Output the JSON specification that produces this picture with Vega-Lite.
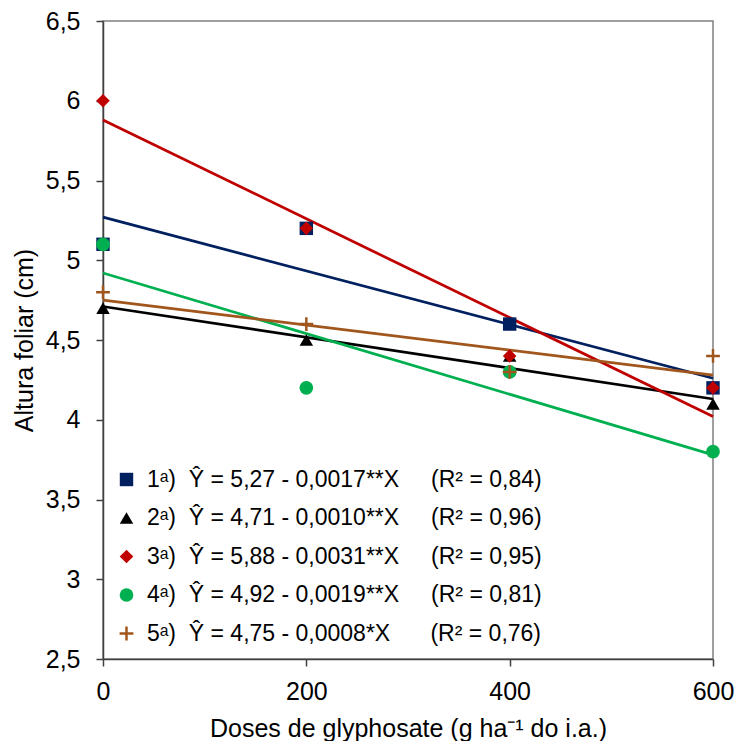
{
  "$schema": "https://vega.github.io/schema/vega-lite/v6.json",
  "width": 610,
  "height": 638,
  "autosize": {"type": "none"},
  "padding": {"left": 103, "top": 21, "right": 26, "bottom": 82},
  "background": "white",
  "config": {
    "font": "Liberation Sans",
    "view": {"stroke": "#808080", "strokeWidth": 1.5},
    "axis": {
      "grid": false,
      "domainColor": "#404040",
      "domainWidth": 1.5,
      "tickColor": "#404040",
      "tickWidth": 1.5,
      "tickSize": 7,
      "labelFont": "Liberation Sans",
      "labelFontSize": 25,
      "labelColor": "#000000",
      "titleFont": "Liberation Sans",
      "titleFontSize": 25,
      "titleFontWeight": "normal",
      "titleColor": "#000000"
    }
  },
  "datasets": {
    "pontos": [
      {"dose": 0, "altura": 5.1, "serie": "1"},
      {"dose": 200, "altura": 5.2, "serie": "1"},
      {"dose": 400, "altura": 4.6, "serie": "1"},
      {"dose": 600, "altura": 4.2, "serie": "1"},
      {"dose": 0, "altura": 4.7, "serie": "2"},
      {"dose": 200, "altura": 4.5, "serie": "2"},
      {"dose": 400, "altura": 4.4, "serie": "2"},
      {"dose": 600, "altura": 4.1, "serie": "2"},
      {"dose": 0, "altura": 6.0, "serie": "3"},
      {"dose": 200, "altura": 5.2, "serie": "3"},
      {"dose": 400, "altura": 4.4, "serie": "3"},
      {"dose": 600, "altura": 4.2, "serie": "3"},
      {"dose": 0, "altura": 5.1, "serie": "4"},
      {"dose": 200, "altura": 4.2, "serie": "4"},
      {"dose": 400, "altura": 4.3, "serie": "4"},
      {"dose": 600, "altura": 3.8, "serie": "4"},
      {"dose": 0, "altura": 4.8, "serie": "5"},
      {"dose": 200, "altura": 4.6, "serie": "5"},
      {"dose": 400, "altura": 4.3, "serie": "5"},
      {"dose": 600, "altura": 4.4, "serie": "5"}
    ],
    "retas": [
      {"dose": 0, "altura": 5.27, "serie": "1"},
      {"dose": 600, "altura": 4.26, "serie": "1"},
      {"dose": 0, "altura": 4.71, "serie": "2"},
      {"dose": 600, "altura": 4.13, "serie": "2"},
      {"dose": 0, "altura": 5.88, "serie": "3"},
      {"dose": 600, "altura": 4.02, "serie": "3"},
      {"dose": 0, "altura": 4.92, "serie": "4"},
      {"dose": 600, "altura": 3.78, "serie": "4"},
      {"dose": 0, "altura": 4.75, "serie": "5"},
      {"dose": 600, "altura": 4.28, "serie": "5"}
    ]
  },
  "encoding": {
    "x": {
      "field": "dose",
      "type": "quantitative",
      "scale": {"domain": [0, 600], "nice": false, "zero": false},
      "axis": {
        "values": [0, 200, 400, 600],
        "labelFlush": false,
        "labelPadding": 13,
        "titlePadding": 12,
        "title": "Doses de glyphosate (g ha⁻¹ do i.a.)"
      }
    },
    "y": {
      "field": "altura",
      "type": "quantitative",
      "scale": {"domain": [2.5, 6.5], "nice": false, "zero": false},
      "axis": {
        "values": [2.5, 3, 3.5, 4, 4.5, 5, 5.5, 6, 6.5],
        "labelExpr": "replace(format(datum.value, '~g'), '.', ',')",
        "labelFlush": false,
        "labelPadding": 16,
        "titlePadding": 8,
        "title": "Altura foliar (cm)"
      }
    }
  },
  "resolve": {"legend": {"color": "independent", "shape": "independent", "size": "independent"}},
  "layer": [
    {
      "data": {"name": "retas"},
      "mark": {"type": "line", "strokeWidth": 2.75},
      "encoding": {
        "color": {
          "field": "serie",
          "type": "nominal",
          "legend": null,
          "scale": {
            "domain": ["1", "2", "3", "4", "5"],
            "range": ["#002060", "#000000", "#C00000", "#00B050", "#A0561C"]
          }
        },
        "detail": {"field": "serie"}
      }
    },
    {
      "data": {"name": "pontos"},
      "mark": {"type": "point", "filled": true, "opacity": 1},
      "encoding": {
        "size": {
          "field": "serie",
          "type": "nominal",
          "legend": null,
          "scale": {"domain": ["1", "2", "3", "4", "5"], "range": [180, 190, 320, 180, 210]}
        },
        "color": {
          "field": "serie",
          "type": "nominal",
          "scale": {
            "domain": ["1", "2", "3", "4", "5"],
            "range": ["#002060", "#000000", "#C00000", "#00B050", "#A0561C"]
          },
          "legend": {
            "title": null,
            "orient": "none",
            "legendX": 12,
            "legendY": 447,
            "padding": 0,
            "symbolSize": 180,
            "symbolStrokeWidth": 0,
            "labelFontSize": 23,
            "labelColor": "#000000",
            "labelOffset": 9,
            "labelLimit": 700,
            "rowPadding": 14.5,
            "labelExpr": "datum.value == '1' ? '1ᵃ)\u00a0\u00a0Ŷ = 5,27 - 0,0017**X\u00a0\u00a0\u00a0\u00a0\u00a0(R² = 0,84)' : datum.value == '2' ? '2ᵃ)\u00a0\u00a0Ŷ = 4,71 - 0,0010**X\u00a0\u00a0\u00a0\u00a0\u00a0(R² = 0,96)' : datum.value == '3' ? '3ᵃ)\u00a0\u00a0Ŷ = 5,88 - 0,0031**X\u00a0\u00a0\u00a0\u00a0\u00a0(R² = 0,95)' : datum.value == '4' ? '4ᵃ)\u00a0\u00a0Ŷ = 4,92 - 0,0019**X\u00a0\u00a0\u00a0\u00a0\u00a0(R² = 0,81)' : '5ᵃ)\u00a0\u00a0Ŷ = 4,75 - 0,0008*X\u00a0\u00a0\u00a0\u00a0\u00a0\u00a0\u200a(R² = 0,76)'"
          }
        },
        "shape": {
          "field": "serie",
          "type": "nominal",
          "scale": {
            "domain": ["1", "2", "3", "4", "5"],
            "range": ["square", "triangle-up", "diamond", "circle", "M-1,-0.18H-0.18V-1H0.18V-0.18H1V0.18H0.18V1H-0.18V0.18H-1Z"]
          },
          "legend": {
            "title": null,
            "orient": "none",
            "legendX": 12,
            "legendY": 447,
            "padding": 0,
            "symbolSize": 180,
            "symbolStrokeWidth": 0,
            "labelFontSize": 23,
            "labelColor": "#000000",
            "labelOffset": 9,
            "labelLimit": 700,
            "rowPadding": 14.5,
            "labelExpr": "datum.value == '1' ? '1ᵃ)\u00a0\u00a0Ŷ = 5,27 - 0,0017**X\u00a0\u00a0\u00a0\u00a0\u00a0(R² = 0,84)' : datum.value == '2' ? '2ᵃ)\u00a0\u00a0Ŷ = 4,71 - 0,0010**X\u00a0\u00a0\u00a0\u00a0\u00a0(R² = 0,96)' : datum.value == '3' ? '3ᵃ)\u00a0\u00a0Ŷ = 5,88 - 0,0031**X\u00a0\u00a0\u00a0\u00a0\u00a0(R² = 0,95)' : datum.value == '4' ? '4ᵃ)\u00a0\u00a0Ŷ = 4,92 - 0,0019**X\u00a0\u00a0\u00a0\u00a0\u00a0(R² = 0,81)' : '5ᵃ)\u00a0\u00a0Ŷ = 4,75 - 0,0008*X\u00a0\u00a0\u00a0\u00a0\u00a0\u00a0\u200a(R² = 0,76)'"
          }
        }
      }
    }
  ]
}
